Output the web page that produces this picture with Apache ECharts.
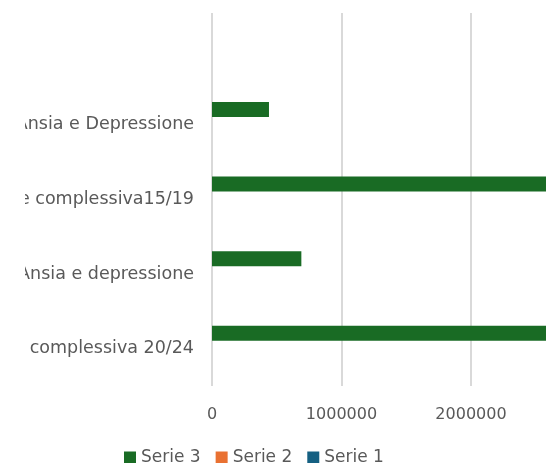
<!DOCTYPE html>
<html>
<head>
<meta charset="utf-8">
<script src="https://cdn.jsdelivr.net/npm/echarts@6/dist/echarts.min.js"></script>
<style>
  html, body { margin: 0; padding: 0; background: #fff; overflow: hidden; width: 546px; height: 463px; }
  #main { position: absolute; left: 25px; top: 0; width: 620px; height: 463px; }
</style>
</head>
<body>
<div id="main"></div>
<script>
// categories, bottom to top (the top one is an empty slot in the original)
var categories = [
  'Popolazione complessiva 20/24',
  'Ansia e depressione',
  'Popolazione complessiva15/19',
  'Ansia e Depressione',
  ''
];
var serie1 = [null, null, null, null, null];
var serie2 = [null, null, null, null, null];
var serie3 = [2900000, 690000, 2850000, 440000, null];
var xTicks = [0, 1000000, 2000000, 3000000];

var chartDom = document.getElementById('main');
var myChart = echarts.init(chartDom);
var option;

var font = 'DejaVu Sans';
var grey = '#595959';

option = {
  animation: false,
  textStyle: { fontFamily: font },
  grid: {
    left: 187,
    right: 44.5,
    top: 13,
    bottom: 77,
    outerBoundsMode: 'none',
    containLabel: false
  },
  legend: {
    data: ['Serie 3', 'Serie 2', 'Serie 1'],
    left: 99,
    top: 449,
    padding: 0,
    icon: 'rect',
    itemWidth: 12,
    itemHeight: 12,
    itemGap: 15,
    textStyle: { color: grey, fontSize: 17, fontFamily: font }
  },
  xAxis: {
    type: 'value',
    min: xTicks[0],
    max: xTicks[xTicks.length - 1],
    interval: xTicks[1] - xTicks[0],
    axisLine: { show: false },
    axisTick: { show: false },
    axisLabel: {
      color: grey, fontSize: 16, margin: 21, fontFamily: font,
      formatter: function (v) { return String(v); }
    },
    splitLine: { lineStyle: { color: '#d9d9d9', width: 2 } }
  },
  yAxis: {
    type: 'category',
    data: categories,
    axisLine: { show: false },
    axisTick: { show: false },
    axisLabel: { color: grey, fontSize: 17.5, margin: 18, fontFamily: font }
  },
  series: [
    { name: 'Serie 3', type: 'bar', data: serie3, barWidth: 15, barGap: '3%', itemStyle: { color: '#196B24' } },
    { name: 'Serie 2', type: 'bar', data: serie2, barWidth: 15, barGap: '3%', itemStyle: { color: '#E97132' } },
    { name: 'Serie 1', type: 'bar', data: serie1, barWidth: 15, barGap: '3%', itemStyle: { color: '#156082' } }
  ]
};

option && myChart.setOption(option);
</script>
</body>
</html>
